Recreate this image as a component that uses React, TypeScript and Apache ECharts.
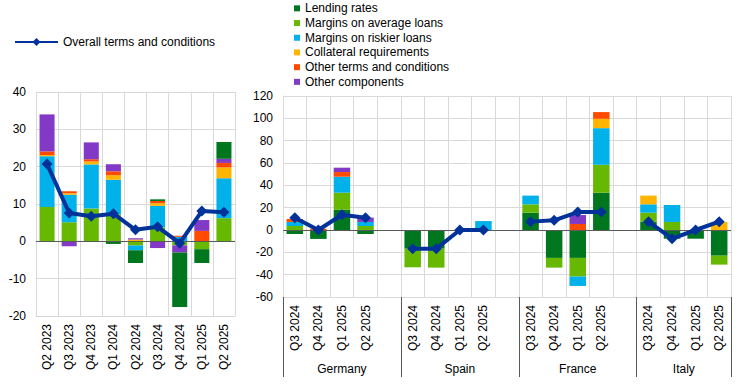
import React, { useEffect, useRef } from "react";
import * as echarts from "echarts";

// ---- Data ----
const leftCats = ["Q2 2023", "Q3 2023", "Q4 2023", "Q1 2024", "Q2 2024", "Q3 2024", "Q4 2024", "Q1 2025", "Q2 2025"];
const quarters = ["Q3 2024", "Q4 2024", "Q1 2025", "Q2 2025"];
const countries = ["Germany", "Spain", "France", "Italy"];

const seriesNames = [
  "Lending rates",
  "Margins on average loans",
  "Margins on riskier loans",
  "Collateral requirements",
  "Other terms and conditions",
  "Other components",
];
const lineName = "Overall terms and conditions";

// Euro area (left)
const euroLending = [0, 0, 0, -0.7, -3.4, 0.45, -14.6, -3.7, 4.5];
const euroMarginsAvg = [9.2, 5.1, 8.8, 7.2, -1.1, 3.7, -1.1, -2.1, 6.2];
const euroRiskier = [13.6, 7.4, 11.8, 9.3, -1.3, 5.8, 1.2, 0, 10.7];
const euroCollateral = [0.3, 0.4, 0.8, 1.2, 0.5, 0.7, 0, 0, 2.9];
const euroOtherTerms = [1.0, 0.5, 0.6, 1.05, 0, 0.6, 0.3, 2.8, 1.2];
const euroOtherComp = [9.9, -1.3, 4.5, 1.9, 0.3, -1.8, -1.9, 2.9, 1.1];
const euroOverall = [20.7, 7.6, 6.7, 7.4, 3.1, 3.9, -0.5, 8.1, 7.8];

// Countries (right): Germany, Spain, France, Italy x (Q3 2024 .. Q2 2025)
const ctyLending = [-3.6, -8, 18.2, -3.6, -16.7, -16.7, 0, 0, 15.5, -25, -25, 33.4, 7.5, -7.8, -7.8, -23];
const ctyMarginsAvg = [3.6, 0, 15.2, 3.6, -16.7, -17, 0, 0, 7.5, -8.7, -16.7, 25, 8, 7.2, 0, -8];
const ctyRiskier = [3.6, 0, 14.3, 3.6, 0, 0, 0, 8, 7.8, 0, -8.4, 32.8, 7.5, 15.2, 0, 0];
const ctyCollateral = [0, 0, 0, 0, 0, 0, 0, 0, 0, 0, 0, 8.4, 7.8, 0, 0, 7.2];
const ctyOtherTerms = [2.7, 1.2, 4.2, 0, 0, 0, 0, 0, 0, 0, 5.4, 6, 0, 0, 0, 0];
const ctyOtherComp = [0, 0, 3.9, 3.9, 0, 0, 0, 0, 0, 0, 8, 0, 0, 0, 0, 0];
const ctyOverall = [11, 0, 13.7, 11, -16.7, -16.7, 0, 0, 7.5, 8.7, 16.1, 16.1, 7.5, -7.8, 0, 7.5];

const leftTicks = [-20, 40, 10];
const rightTicks = [-60, 120, 20];

// ---- Styles ----
const colors: Record<string, string> = {
  "Lending rates": "#00771f",
  "Margins on average loans": "#67b800",
  "Margins on riskier loans": "#00b1ea",
  "Collateral requirements": "#ffb400",
  "Other terms and conditions": "#ff4b00",
  "Other components": "#8139c6",
};
const lineColor = "#003299";
const gridColor = "#d9d9d9";
const font = "'Liberation Sans', Arial, sans-serif";

// Build slotted arrays (4 quarters per country, a blank slot between countries)
function slots<T>(vals: (T | null)[], blank: T | null): (T | null)[] {
  const out: (T | null)[] = [];
  countries.forEach((_, c) => {
    for (let q = 0; q < quarters.length; q++) out.push(vals[c * quarters.length + q]);
    if (c < countries.length - 1) out.push(blank);
  });
  return out;
}

export default function App() {
  const ref = useRef<HTMLDivElement>(null);

  useEffect(() => {
    if (!ref.current) return;
    const chart = echarts.init(ref.current, undefined, { renderer: "svg" });

    const rightCats = slots<string>(
      countries.flatMap(() => quarters),
      ""
    );
    const nSlots = rightCats.length;
    // country axis: half-slot points
    const countryAxis: string[] = new Array(nSlots * 2 + 1).fill("");
    const sepIdx: number[] = [];
    let start = 0;
    countries.forEach((name, c) => {
      const w = c < countries.length - 1 ? quarters.length + 1 : quarters.length;
      countryAxis[2 * start + w] = name;
      sepIdx.push(2 * start);
      start += w;
    });
    sepIdx.push(nSlots * 2);

    const leftData: Record<string, number[]> = {
      "Lending rates": euroLending,
      "Margins on average loans": euroMarginsAvg,
      "Margins on riskier loans": euroRiskier,
      "Collateral requirements": euroCollateral,
      "Other terms and conditions": euroOtherTerms,
      "Other components": euroOtherComp,
    };
    const rightData: Record<string, number[]> = {
      "Lending rates": ctyLending,
      "Margins on average loans": ctyMarginsAvg,
      "Margins on riskier loans": ctyRiskier,
      "Collateral requirements": ctyCollateral,
      "Other terms and conditions": ctyOtherTerms,
      "Other components": ctyOtherComp,
    };
    const leftOrder = [
      "Margins on average loans",
      "Margins on riskier loans",
      "Collateral requirements",
      "Other terms and conditions",
      "Other components",
      "Lending rates",
    ];
    const rightOrder = seriesNames;

    const zeroLine = {
      silent: true,
      symbol: ["none", "none"],
      label: { show: false },
      lineStyle: { color: "#595959", type: "solid", width: 1 },
      emphasis: { disabled: true },
      data: [{ yAxis: 0 }],
    };

    const series: any[] = [];
    leftOrder.forEach((name, i) => {
      series.push({
        name,
        type: "bar",
        stack: "L",
        xAxisIndex: 0,
        yAxisIndex: 0,
        barCategoryGap: "32%",
        itemStyle: { color: colors[name] },
        data: leftData[name],
        markLine: i === 0 ? zeroLine : undefined,
      });
    });
    rightOrder.forEach((name, i) => {
      series.push({
        name,
        type: "bar",
        stack: "R",
        xAxisIndex: 1,
        yAxisIndex: 1,
        barCategoryGap: "30%",
        itemStyle: { color: colors[name] },
        data: slots<number>(rightData[name], null),
        markLine: i === 0 ? zeroLine : undefined,
      });
    });
    const lineCommon = {
      name: lineName,
      type: "line",
      symbol: "diamond",
      symbolSize: 11,
      lineStyle: { color: lineColor, width: 4 },
      itemStyle: { color: lineColor },
      z: 5,
    };
    series.push({ ...lineCommon, xAxisIndex: 0, yAxisIndex: 0, data: euroOverall });
    series.push({
      ...lineCommon,
      xAxisIndex: 1,
      yAxisIndex: 1,
      connectNulls: false,
      data: slots<number>(ctyOverall, null),
    });

    const axisLabelStyle = { color: "#000", fontSize: 12, fontFamily: font };

    chart.setOption({
      animation: false,
      textStyle: { fontFamily: font },
      legend: [
        {
          data: [lineName],
          left: 9,
          top: 31,
          itemWidth: 43,
          itemHeight: 10,
          textStyle: { color: "#000", fontSize: 12, fontFamily: font },
        },
        {
          data: seriesNames,
          orient: "vertical",
          left: 289,
          top: -4,
          itemWidth: 6,
          itemHeight: 6,
          itemGap: 0,
          icon: "rect",
          textStyle: { color: "#000", fontSize: 12, lineHeight: 14.7, fontFamily: font },
        },
      ],
      grid: [
        { left: 36, right: 510, top: 92, bottom: 69 },
        { left: 283, right: 14, top: 96, bottom: 88 },
      ],
      xAxis: [
        {
          type: "category",
          gridIndex: 0,
          data: leftCats,
          axisLine: { onZero: false, lineStyle: { color: gridColor } },
          axisTick: { show: false },
          splitLine: { show: true, lineStyle: { color: gridColor } },
          axisLabel: { ...axisLabelStyle, rotate: 90, margin: 8, interval: 0 },
        },
        {
          type: "category",
          gridIndex: 1,
          data: rightCats,
          axisLine: { onZero: false, lineStyle: { color: gridColor } },
          axisTick: { show: false },
          splitLine: { show: true, interval: 0, lineStyle: { color: gridColor } },
          axisLabel: { ...axisLabelStyle, rotate: 90, margin: 8, interval: 0 },
        },
        {
          type: "category",
          gridIndex: 1,
          position: "bottom",
          boundaryGap: false,
          data: countryAxis,
          axisLine: { show: false, onZero: false },
          axisTick: {
            show: true,
            length: 80,
            interval: (idx: number) => sepIdx.indexOf(idx) >= 0,
            lineStyle: { color: "#595959" },
          },
          splitLine: { show: false },
          axisLabel: { ...axisLabelStyle, interval: 0, margin: 66 },
        },
      ],
      yAxis: [
        {
          type: "value",
          gridIndex: 0,
          min: leftTicks[0],
          max: leftTicks[1],
          interval: leftTicks[2],
          axisLine: { show: true, lineStyle: { color: gridColor } },
          axisTick: { show: false },
          splitLine: { show: true, lineStyle: { color: gridColor } },
          axisLabel: { ...axisLabelStyle, margin: 10 },
        },
        {
          type: "value",
          gridIndex: 1,
          min: rightTicks[0],
          max: rightTicks[1],
          interval: rightTicks[2],
          axisLine: { show: true, lineStyle: { color: gridColor } },
          axisTick: { show: false },
          splitLine: { show: true, lineStyle: { color: gridColor } },
          axisLabel: { ...axisLabelStyle, margin: 10 },
        },
      ],
      series,
    });

    return () => chart.dispose();
  }, []);

  return (
    <div
      ref={ref}
      style={{ position: "fixed", left: 0, top: 0, width: 745, height: 385, background: "#fff" }}
    />
  );
}
